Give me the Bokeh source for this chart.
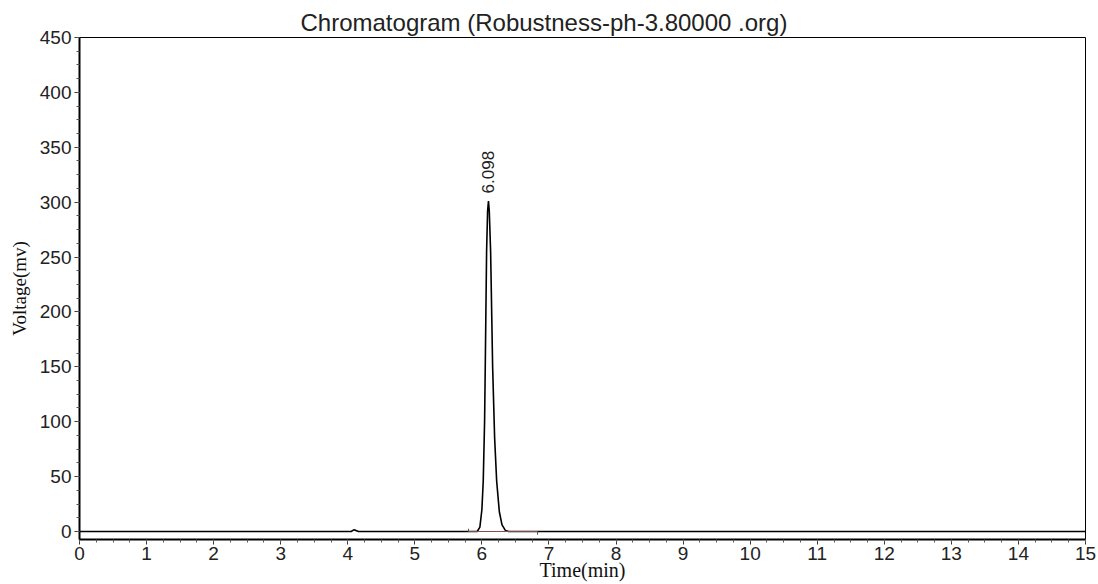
import math
from bokeh.plotting import figure
from bokeh.models import Range1d, SingleIntervalTicker, ColumnDataSource, Title
from bokeh.core.properties import value
from bokeh.embed import file_html
from bokeh.resources import INLINE

# ---- data ----
time_min = [0.0, 4.05, 4.09, 4.12, 4.16, 5.93, 5.97, 6.00, 6.02, 6.04, 6.05, 6.07,
            6.085, 6.098, 6.11, 6.13, 6.16, 6.19, 6.22, 6.26, 6.30, 6.35, 6.40, 15.0]
voltage_mv = [0.0, 0.0, 1.5, 1.0, 0.0, 0.0, 4.0, 20.0, 46.0, 100.0, 150.0, 255.0,
              292.0, 301.0, 292.0, 255.0, 150.0, 85.0, 46.0, 18.0, 6.0, 1.0, 0.0, 0.0]

peak_rt = [6.098]
peak_height = [301.0]
peak_label = ["6.098"]

integ_start = [5.80]
integ_end = [6.83]

title_text = "Chromatogram (Robustness-ph-3.80000 .org)"
x_label = "Time(min)"
y_label = "Voltage(mv)"

W, H = 1098, 584
BL, BR, BT, BB = 79, 13, 37, 45

p = figure(width=W, height=H, output_backend="svg", toolbar_location=None,
           x_range=Range1d(0, 15), y_range=Range1d(-7.3, 450),
           min_border_left=BL, min_border_right=BR, min_border_top=BT,
           min_border_bottom=BB)

p.xgrid.visible = False
p.ygrid.visible = False
p.outline_line_color = "black"
p.outline_line_width = 1
p.background_fill_color = "white"
p.border_fill_color = "white"

p.xaxis.ticker = SingleIntervalTicker(interval=1, num_minor_ticks=4)
p.yaxis.ticker = SingleIntervalTicker(interval=50, num_minor_ticks=4)

for ax in (p.xaxis[0], p.yaxis[0]):
    ax.major_tick_in = 0
    ax.major_tick_out = 5
    ax.minor_tick_in = 0
    ax.minor_tick_out = 3
    ax.axis_line_width = 2
    ax.axis_line_color = "black"
    ax.major_tick_line_color = "#333333"
    ax.minor_tick_line_color = "#555555"
    ax.major_label_text_font = "Liberation Sans"
    ax.major_label_text_font_size = "19px"
    ax.major_label_text_color = "#222222"
    ax.axis_label_text_font = "Liberation Serif"
    ax.axis_label_text_font_style = "normal"
    ax.axis_label_text_color = "#111111"

p.xaxis.axis_label = x_label
p.yaxis.axis_label = y_label
p.xaxis.axis_label_text_font_size = "20px"
p.yaxis.axis_label_text_font_size = "19px"
p.xaxis.major_label_standoff = 2
p.xaxis.axis_label_standoff = -4
p.yaxis.major_label_standoff = 3
p.yaxis.axis_label_standoff = 7

# title (left-aligned with offset so it sits centred over the whole canvas)
p.add_layout(Title(text=title_text, align="left", offset=221, vertical_align="top",
                   text_font="Liberation Sans", text_font_size="24px",
                   text_font_style="normal", text_color="#222222", standoff=0),
             "above")

# signal trace
src = ColumnDataSource(dict(t=time_min, v=voltage_mv))
p.line("t", "v", source=src, line_color="black", line_width=1.6)

# integration baseline (reddish) with start/end marks
p.segment(x0=integ_start, y0=[0], x1=integ_end, y1=[0],
          line_color="#8a4a4a", line_width=1)
p.segment(x0=integ_start, y0=[0], x1=integ_start, y1=[2.5],
          line_color="#555555", line_width=1)
p.segment(x0=integ_end, y0=[0], x1=integ_end, y1=[-3.0],
          line_color="#555555", line_width=1)

# peak label (rotated)
lab_y = [h + 7 for h in peak_height]
p.text(x=peak_rt, y=lab_y, text=peak_label, angle=math.pi / 2,
       text_align="left", text_baseline="middle",
       text_font=value("Liberation Sans"), text_font_size="17px",
       text_color="#222222")

open("out.html", "w").write(file_html(p, INLINE))
